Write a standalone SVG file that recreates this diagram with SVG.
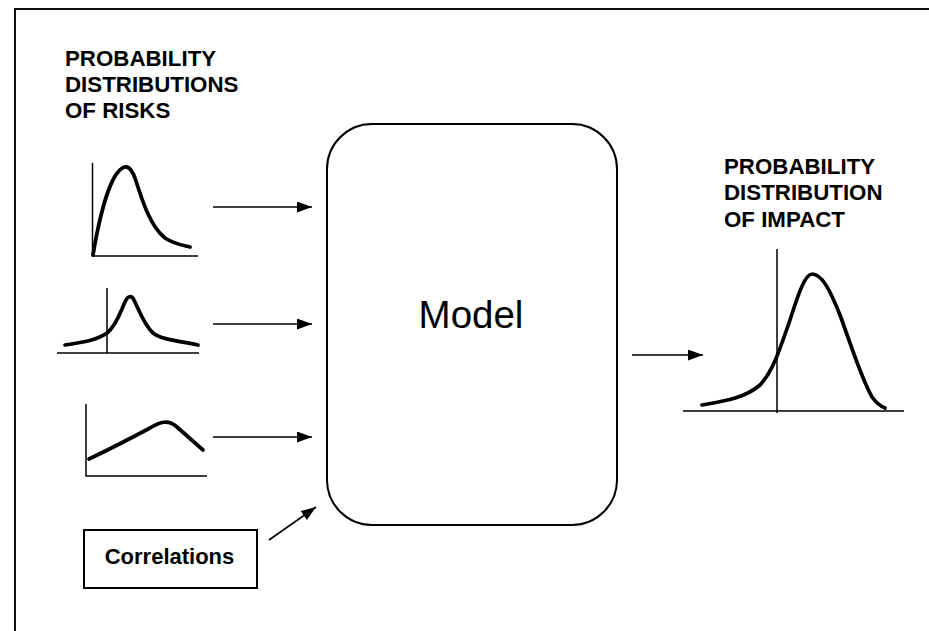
<svg xmlns="http://www.w3.org/2000/svg" width="929" height="631" viewBox="0 0 929 631">
<defs>
<style>
.frame{fill:none;stroke:#111;stroke-width:2}
.axis{fill:none;stroke:#000;stroke-width:1.5}
.curve{fill:none;stroke:#000;stroke-width:3.7;stroke-linecap:round;stroke-linejoin:round}
.box{fill:#fff;stroke:#000;stroke-width:2}
.conn{fill:none;stroke:#000;stroke-width:1.7}
.title{font-family:"Liberation Sans",Arial,sans-serif;font-weight:bold;font-size:22.3px;fill:#000}
.model{font-family:"Liberation Sans",Arial,sans-serif;font-size:38.5px;fill:#000}
.corr{font-family:"Liberation Sans",Arial,sans-serif;font-weight:bold;font-size:22px;fill:#000}
</style>
<marker id="arrow" markerUnits="userSpaceOnUse" markerWidth="16" markerHeight="12" refX="15" refY="5.5" orient="auto">
<path d="M0,0 L15,5.5 L0,11 Z" fill="#000"/>
</marker>
</defs>
<rect width="929" height="631" fill="#fff"/>
<path class="frame" d="M15,631 L15,9 L929,9"/>

<g id="risks-title">
<text class="title" x="65" y="66">PROBABILITY</text>
<text class="title" x="65" y="92">DISTRIBUTIONS</text>
<text class="title" x="65" y="118">OF RISKS</text>
</g>

<g id="dist1">
<path class="axis" d="M92.5,163 L92.5,256 L198,256"/>
<path class="curve" d="M93,255 C98,225 107,185 118,172 C125,164 130,165 135,178 C142,200 150,226 165,238 C174,244 182,245 190,247"/>
</g>

<g id="dist2">
<path class="axis" d="M57,353 L199,353 M107,288 L107,353"/>
<path class="curve" d="M65,345 C85,342 97,340 107,333 C117,325 121,310 125,302 C127,297 131,294 134,300 C139,310 144,325 153,333 C162,340 180,341 198,345"/>
</g>

<g id="dist3">
<path class="axis" d="M86,404 L86,476 L207,476"/>
<path class="curve" d="M89,459 C110,449 135,436 150,428 C160,422 168,419 177,427 C186,435 195,443 203,450"/>
</g>

<g id="correlations">
<rect class="box" x="84" y="530" width="173" height="58"/>
<text class="corr" x="169.5" y="564" text-anchor="middle">Correlations</text>
</g>

<g id="model">
<rect class="box" x="327" y="124" width="290" height="401" rx="45" ry="45"/>
<text class="model" x="471" y="328" text-anchor="middle">Model</text>
</g>

<g id="impact-title">
<text class="title" x="724" y="174">PROBABILITY</text>
<text class="title" x="724" y="200">DISTRIBUTION</text>
<text class="title" x="724" y="227">OF IMPACT</text>
</g>

<g id="impact">
<path class="axis" d="M683,411 L904,411 M777,249 L777,413"/>
<path class="curve" d="M702,405 C725,401 745,398 760,385 C772,372 778,355 790,320 C798,295 805,274 812,274 C822,274 830,290 840,315 C852,348 862,380 872,397 C877,404 880,406 885,408"/>
</g>

<g id="connectors">
<line class="conn" x1="213" y1="207" x2="312" y2="207" marker-end="url(#arrow)"/>
<line class="conn" x1="213" y1="324" x2="312" y2="324" marker-end="url(#arrow)"/>
<line class="conn" x1="213" y1="437" x2="312" y2="437" marker-end="url(#arrow)"/>
<line class="conn" x1="269" y1="540" x2="316" y2="507" marker-end="url(#arrow)"/>
<line class="conn" x1="632" y1="355" x2="703" y2="355" marker-end="url(#arrow)"/>
</g>
</svg>
